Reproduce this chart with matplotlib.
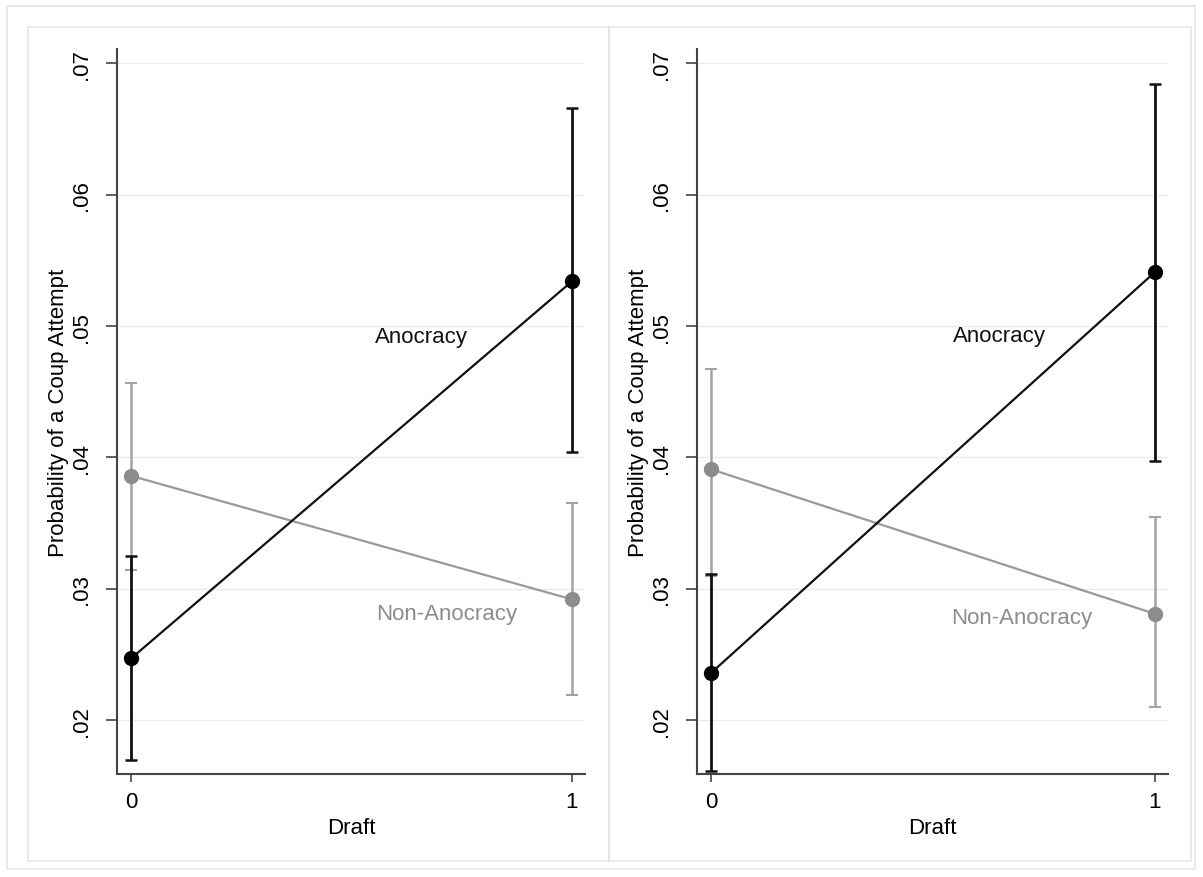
import numpy as np
import matplotlib.pyplot as plt
from matplotlib.patches import Rectangle

plt.rcParams['font.family'] = ['Liberation Sans', 'DejaVu Sans']

draft = [0, 1]
yticks = [0.02, 0.03, 0.04, 0.05, 0.06, 0.07]
ytick_labels = ['.02', '.03', '.04', '.05', '.06', '.07']

# left panel
anoc_l = [0.0247, 0.0534]
anoc_l_lo = [0.0170, 0.0404]
anoc_l_hi = [0.0325, 0.0666]
nonan_l = [0.0386, 0.0292]
nonan_l_lo = [0.0314, 0.0219]
nonan_l_hi = [0.0457, 0.0365]

# right panel
anoc_r = [0.0236, 0.0541]
anoc_r_lo = [0.0161, 0.0397]
anoc_r_hi = [0.0311, 0.0684]
nonan_r = [0.0391, 0.0281]
nonan_r_lo = [0.0310, 0.0210]
nonan_r_hi = [0.0467, 0.0355]

BLACK = '#111111'
GREY = '#8c8c8c'
GREY_CI = '#a3a3a3'


def px(x0, y0, x1, y1):
    W, H = 1203, 878
    return (x0 / W, 1 - y1 / H, (x1 - x0) / W, (y1 - y0) / H)


def draw_panel(ax, anoc, alo, ahi, non, nlo, nhi, lab_a, lab_n, ylab_x):
    for y in yticks:
        ax.axhline(y, color='#ececec', lw=1.0, zorder=0)
    ax.errorbar(draft, non,
                yerr=[np.array(non) - np.array(nlo), np.array(nhi) - np.array(non)],
                fmt='none', ecolor=GREY_CI, elinewidth=1.8, capsize=4.5,
                capthick=1.5, zorder=2)
    ax.plot(draft, non, color='#999999', lw=1.6, zorder=3)
    ax.plot(draft, non, 'o', color=GREY, ms=10, zorder=4)
    ax.errorbar(draft, anoc,
                yerr=[np.array(anoc) - np.array(alo), np.array(ahi) - np.array(anoc)],
                fmt='none', ecolor=BLACK, elinewidth=2.0, capsize=4.5,
                capthick=1.8, zorder=5)
    ax.plot(draft, anoc, color=BLACK, lw=1.6, zorder=6)
    ax.plot(draft, anoc, 'o', color='black', ms=10, zorder=7)

    ax.text(lab_a[0], lab_a[1], 'Anocracy', color=BLACK, fontsize=16,
            ha='center', va='center')
    ax.text(lab_n[0], lab_n[1], 'Non-Anocracy', color=GREY, fontsize=16,
            ha='center', va='center')

    ax.set_xlim(-0.032, 1.03)
    ax.set_ylim(0.0159, 0.0711)
    ax.set_xticks(draft)
    ax.set_xticklabels(['0', '1'])
    ax.set_yticks(yticks)
    ax.set_yticklabels(ytick_labels, rotation=90, va='center')
    ax.tick_params(axis='y', length=8, width=1.2, color='#444444',
                   labelsize=16, pad=10)
    ax.tick_params(axis='x', length=6, width=1.2, color='#444444',
                   labelsize=16, pad=6)
    for s in ['top', 'right']:
        ax.spines[s].set_visible(False)
    for s in ['left', 'bottom']:
        ax.spines[s].set_color('#444444')
        ax.spines[s].set_linewidth(1.5)
    ax.set_xlabel('Draft', fontsize=16, labelpad=4)
    ax.set_ylabel('Probability of a Coup Attempt', fontsize=16)
    ax.yaxis.set_label_coords(ylab_x, 0.5)
    ax.set_facecolor('none')


fig = plt.figure(figsize=(12.03, 8.78), dpi=100)
fig.patch.set_facecolor('white')

# panel frames
for r in [px(7, 7, 1195, 870), px(28, 28, 609, 862), px(609, 28, 1191, 862)]:
    fig.patches.append(Rectangle((r[0], r[1]), r[2], r[3], transform=fig.transFigure,
                                 fill=False, edgecolor='#e6e6e6', lw=1.2, zorder=0))

ax1 = fig.add_axes(px(117, 50, 585, 775))
ax2 = fig.add_axes(px(697, 50, 1168, 775))

draw_panel(ax1, anoc_l, anoc_l_lo, anoc_l_hi, nonan_l, nonan_l_lo, nonan_l_hi,
           (0.66, 0.0492), (0.717, 0.0281), -0.102)
draw_panel(ax2, anoc_r, anoc_r_lo, anoc_r_hi, nonan_r, nonan_r_lo, nonan_r_hi,
           (0.651, 0.0493), (0.70, 0.0278), -0.102)

fig.savefig('out.png', dpi=100)
